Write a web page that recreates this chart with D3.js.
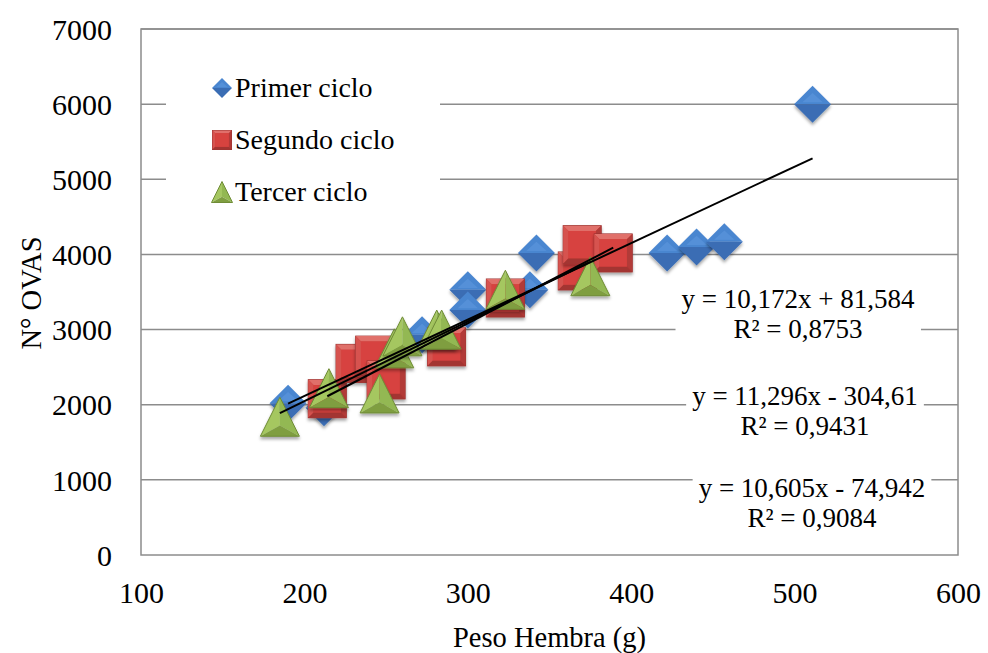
<!DOCTYPE html>
<html><head><meta charset="utf-8">
<script src="https://cdn.jsdelivr.net/npm/d3@7"></script>
<style>body{margin:0;background:#fff}svg{display:block}text{font-family:"Liberation Serif","Times New Roman",serif;fill:#000}</style>
</head><body><svg id="c" width="988" height="653"></svg>
<script>
// ---- data ----
const seriesNames = ["Primer ciclo", "Segundo ciclo", "Tercer ciclo"];
const primerX = [190, 212, 272, 300, 300, 338, 342, 422, 440, 457, 511];
const primerY = [2020, 1960, 2930, 3530, 3260, 3530, 4020, 4020, 4100, 4170, 6000];
const segundoX = [214, 231, 243, 250, 287, 323, 367, 370, 389];
const segundoY = [2080, 2550, 2660, 2330, 2770, 3420, 3780, 4130, 4020];
const tercerX = [185, 215, 246, 255, 260, 281, 284, 323, 375];
const tercerY = [1840, 2220, 2150, 2750, 2910, 3000, 3000, 3530, 3710];
const trendSlope = [10.172, 11.296, 10.605];
const trendIntercept = [81.584, -304.61, -74.942];
const eqLabels = ["y = 10,172x + 81,584", "y = 11,296x - 304,61", "y = 10,605x - 74,942"];
const r2Labels = ["R² = 0,8753", "R² = 0,9431", "R² = 0,9084"];
const xTicks = [100, 200, 300, 400, 500, 600];
const yTicks = [0, 1000, 2000, 3000, 4000, 5000, 6000, 7000];
const xTitle = "Peso Hembra (g)";
const yTitle = "N° OVAS";

const svg = d3.select("#c");
const L = 141, R = 958, T = 29, B = 555;
const x = d3.scaleLinear().domain([100, 600]).range([L, R]);
const y = d3.scaleLinear().domain([0, 7000]).range([B, T]);

const defs = svg.append("defs");
const f = defs.append("filter").attr("id", "sh").attr("x", "-30%").attr("y", "-30%").attr("width", "160%").attr("height", "170%");
f.append("feDropShadow").attr("dx", 0).attr("dy", 2.5).attr("stdDeviation", 1.8).attr("flood-color", "#000").attr("flood-opacity", 0.35);

// gridlines
svg.append("g").selectAll("line").data(yTicks.slice(1)).join("line")
  .attr("x1", L).attr("x2", R).attr("y1", d => y(d)).attr("y2", d => y(d))
  .attr("stroke", "#8c8c8c").attr("stroke-width", 1.5);

// axes (labels only)
const xa = svg.append("g").attr("transform", `translate(0,${B})`)
  .call(d3.axisBottom(x).tickValues(xTicks).tickSize(0).tickPadding(0).tickFormat(d3.format("d")));
xa.select(".domain").remove();
xa.selectAll("text").attr("font-size", 30).attr("dy", null).attr("y", 48).style("font-family", "Liberation Serif");
const ya = svg.append("g").attr("transform", `translate(${L},0)`)
  .call(d3.axisLeft(y).tickValues(yTicks).tickSize(0).tickPadding(0).tickFormat(d3.format("d")));
ya.select(".domain").remove();
ya.selectAll("text").attr("font-size", 30).attr("x", -29).attr("dy", "0.34em").style("font-family", "Liberation Serif");

// plot border
svg.append("rect").attr("x", L).attr("y", T).attr("width", R - L).attr("height", B - T)
  .attr("fill", "none").attr("stroke", "#8c8c8c").attr("stroke-width", 1.5);

// axis titles
svg.append("text").attr("x", (L + R) / 2).attr("y", 647).attr("text-anchor", "middle").attr("font-size", 28.5).text(xTitle);
svg.append("text").attr("transform", "translate(41,293) rotate(-90)").attr("text-anchor", "middle").attr("font-size", 28.5).text(yTitle);

// marker drawers
function diamond(g, s) {
  const h = s / 2;
  g.append("path").attr("d", `M${-h},0L0,${-h}L${h},0Z`).attr("fill", "#4a86d0");
  g.append("path").attr("d", `M${-h},0L0,${h}L${h},0Z`).attr("fill", "#3a6db4");
  g.append("path").attr("d", `M${-h*0.55},${-h*0.1}L0,${-h*0.6}L${h*0.55},${-h*0.1}Z`).attr("fill", "#5b97dd").attr("opacity", 0.6);
}
function square(g, s) {
  const h = s / 2, b = s * 0.14;
  g.append("rect").attr("x", -h).attr("y", -h).attr("width", s).attr("height", s).attr("fill", "#c9403c").attr("stroke", "#9b3532").attr("stroke-width", 1);
  g.append("path").attr("d", `M${-h},${-h}L${h},${-h}L${h-b},${-h+b}L${-h+b},${-h+b}Z`).attr("fill", "#e0706b");
  g.append("path").attr("d", `M${-h},${-h}L${-h+b},${-h+b}L${-h+b},${h-b}L${-h},${h}Z`).attr("fill", "#d6534f");
  g.append("path").attr("d", `M${h},${-h}L${h},${h}L${h-b},${h-b}L${h-b},${-h+b}Z`).attr("fill", "#b23a37");
  g.append("path").attr("d", `M${-h},${h}L${h},${h}L${h-b},${h-b}L${-h+b},${h-b}Z`).attr("fill", "#a33431");
  g.append("rect").attr("x", -h + b).attr("y", -h + b).attr("width", s - 2 * b).attr("height", s - 2 * b).attr("fill", "#d7433f");
}
function triangle(g, s) {
  const h = s / 2, cy = h * 0.45;
  const top = [0, -h], bl = [-h, h], br = [h, h], c = [0, cy];
  const p = a => a.join(",");
  g.append("path").attr("d", `M${p(top)}L${p(bl)}L${p(c)}Z`).attr("fill", "#a5c761");
  g.append("path").attr("d", `M${p(top)}L${p(br)}L${p(c)}Z`).attr("fill", "#93b852");
  g.append("path").attr("d", `M${p(bl)}L${p(br)}L${p(c)}Z`).attr("fill", "#7f9e40");
  g.append("path").attr("d", `M${p(top)}L${p(bl)}L${p(br)}Z`).attr("fill", "none").attr("stroke", "#6f8c36").attr("stroke-width", 1);
}
const drawers = [diamond, square, triangle];
const sizes = [37, 38, 39];
const allX = [primerX, segundoX, tercerX], allY = [primerY, segundoY, tercerY];

allX.forEach((xs, si) => {
  const pts = xs.map((v, i) => [v, allY[si][i]]);
  svg.append("g").selectAll("g").data(pts).join("g")
    .attr("transform", d => `translate(${x(d[0])},${y(d[1])})`).attr("filter", "url(#sh)")
    .each(function () { drawers[si](d3.select(this), sizes[si]); });
});

// trendlines
allX.forEach((xs, si) => {
  const x0 = d3.min(xs), x1 = d3.max(xs);
  svg.append("line").attr("x1", x(x0)).attr("y1", y(trendSlope[si] * x0 + trendIntercept[si]))
    .attr("x2", x(x1)).attr("y2", y(trendSlope[si] * x1 + trendIntercept[si]))
    .attr("stroke", "#000").attr("stroke-width", 2);
});

// equation labels
const eqPos = [[798, 307.5], [805, 404.5], [812, 496.5]];
eqLabels.forEach((t, i) => {
  const g = svg.append("g");
  const bg = g.append("rect").attr("fill", "#fff");
  g.append("text").attr("x", eqPos[i][0]).attr("y", eqPos[i][1]).attr("text-anchor", "middle").attr("font-size", 27).text(t);
  g.append("text").attr("x", eqPos[i][0]).attr("y", eqPos[i][1] + 30).attr("text-anchor", "middle").attr("font-size", 27).text(r2Labels[i]);
  const bb = g.node().getBBox();
  bg.attr("x", bb.x - 6).attr("y", bb.y).attr("width", bb.width + 12).attr("height", bb.height);
});

// legend
svg.append("rect").attr("x", 166).attr("y", 58).attr("width", 274).attr("height", 155).attr("fill", "#fff");
const legY = [97, 149, 201];
const legSizes = [20, 19, 21];
seriesNames.forEach((n, i) => {
  const g = svg.append("g").attr("transform", `translate(222,${legY[i] - 9})`);
  drawers[i](g, legSizes[i]);
  svg.append("text").attr("x", 235).attr("y", legY[i]).attr("font-size", 28).text(n);
});
</script></body></html>
